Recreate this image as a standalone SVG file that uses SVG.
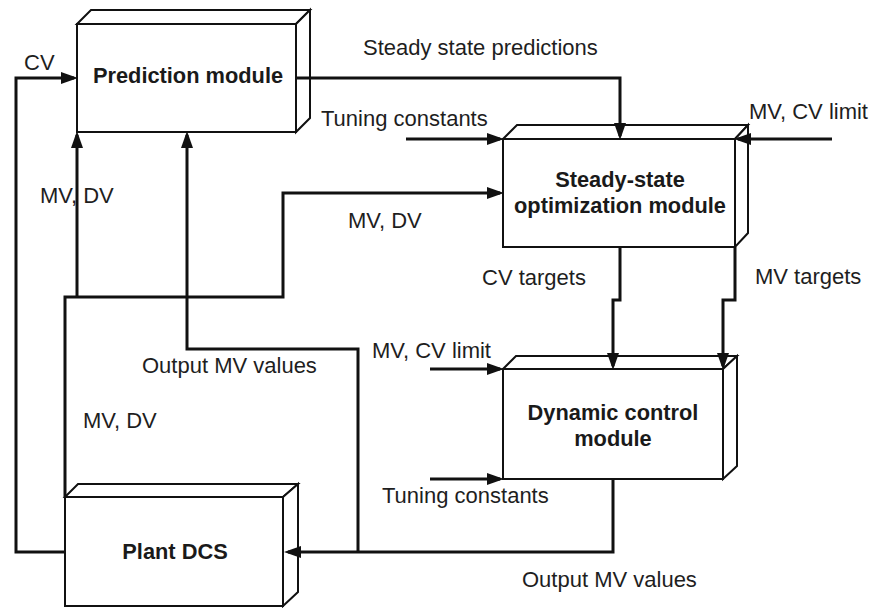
<svg xmlns="http://www.w3.org/2000/svg" width="872" height="608" viewBox="0 0 872 608">
  <defs>
    <marker id="arrow" markerUnits="userSpaceOnUse" markerWidth="17" markerHeight="12" refX="13" refY="6" orient="auto">
      <path d="M0,0 L17,6 L0,12 z" fill="#111"/>
    </marker>
  </defs>
  <style>
    .face { fill: #fff; stroke: #111; stroke-width: 2; stroke-linejoin: miter; }
    .wire { fill: none; stroke: #111; stroke-width: 3; stroke-linejoin: miter; }
    .arr { marker-end: url(#arrow); }
    .lbl { font-family: "Liberation Sans", Arial, sans-serif; font-size: 22px; fill: #1e1e1e; }
    .title { font-family: "Liberation Sans", Arial, sans-serif; font-size: 21.8px; font-weight: bold; fill: #1a1a1a; text-anchor: middle; }
  </style>

  <rect width="872" height="608" fill="#fff"/>

  <!-- 3D module boxes: front face, top face, side face -->
  <g id="prediction-module">
    <polygon class="face" points="77,24 91,10 310,10 296,24"/>
    <polygon class="face" points="296,24 310,10 310,118 296,132"/>
    <rect class="face" x="77" y="24" width="219" height="108"/>
    <text class="title" x="188" y="83">Prediction module</text>
  </g>

  <g id="steady-state-module">
    <polygon class="face" points="503,139 517,125 748,125 735,139"/>
    <polygon class="face" points="735,139 748,125 748,233 735,247"/>
    <rect class="face" x="503" y="139" width="232" height="108"/>
    <text class="title" x="620" y="187">Steady-state</text>
    <text class="title" x="620" y="213">optimization module</text>
  </g>

  <g id="dynamic-control-module">
    <polygon class="face" points="503,369 516,356 737,356 723,369"/>
    <polygon class="face" points="723,369 737,356 737,466 723,479"/>
    <rect class="face" x="503" y="369" width="220" height="110"/>
    <text class="title" x="613" y="420">Dynamic control</text>
    <text class="title" x="613" y="446">module</text>
  </g>

  <g id="plant-dcs">
    <polygon class="face" points="65,497 78,484 298,484 283,497"/>
    <polygon class="face" points="283,497 298,484 298,592 283,606"/>
    <rect class="face" x="65" y="497" width="218" height="109"/>
    <text class="title" x="175" y="559">Plant DCS</text>
  </g>

  <!-- signal lines -->
  <g id="connectors">
    <!-- CV feedback from plant to prediction -->
    <path class="wire arr" d="M65,552 H16 V78 H74"/>
    <!-- steady state predictions -->
    <path class="wire arr" d="M296,78 H620 V136"/>
    <!-- external inputs to the optimizer -->
    <path class="wire arr" d="M406,139 H500"/>
    <path class="wire arr" d="M832,139 H738"/>
    <!-- MV, DV from plant to optimizer and predictor -->
    <path class="wire arr" d="M65,497 V297 H283 V193 H500"/>
    <path class="wire arr" d="M77,297 V135"/>
    <!-- output MV values to plant, with branch to predictor -->
    <path class="wire arr" d="M613,479 V552 H288"/>
    <path class="wire arr" d="M358,552 V349 H187 V135"/>
    <!-- targets from optimizer to controller -->
    <path class="wire arr" d="M620,247 V300 H613 V366"/>
    <path class="wire arr" d="M735,247 V300 H723 V366"/>
    <!-- external inputs to the controller -->
    <path class="wire arr" d="M430,369 H500"/>
    <path class="wire arr" d="M430,479 H500"/>
  </g>

  <g id="labels">
    <text class="lbl" x="24" y="70">CV</text>
    <text class="lbl" x="363" y="55">Steady state predictions</text>
    <text class="lbl" x="321" y="126">Tuning constants</text>
    <text class="lbl" x="749" y="119">MV, CV limit</text>
    <text class="lbl" x="40" y="203">MV, DV</text>
    <text class="lbl" x="348" y="228">MV, DV</text>
    <text class="lbl" x="482" y="285">CV targets</text>
    <text class="lbl" x="755" y="284">MV targets</text>
    <text class="lbl" x="372" y="358">MV, CV limit</text>
    <text class="lbl" x="142" y="373">Output MV values</text>
    <text class="lbl" x="83" y="428">MV, DV</text>
    <text class="lbl" x="382" y="503">Tuning constants</text>
    <text class="lbl" x="522" y="587">Output MV values</text>
  </g>
</svg>
